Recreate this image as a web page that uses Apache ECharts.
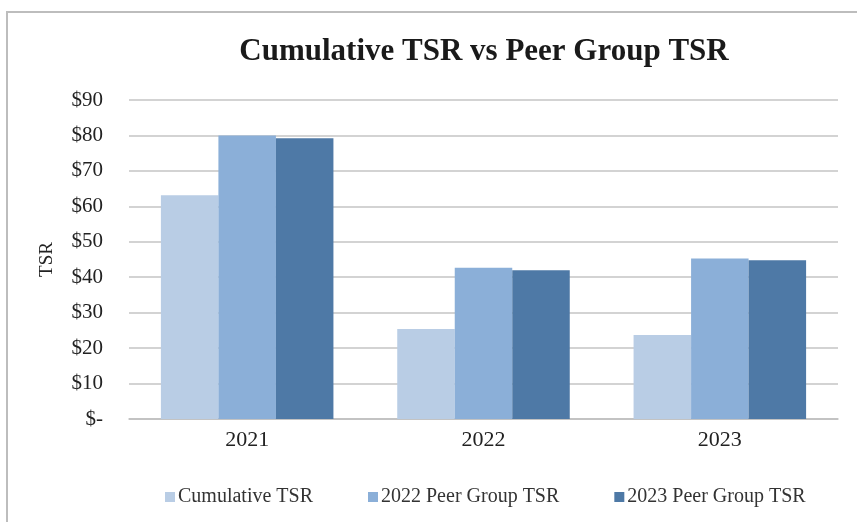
<!DOCTYPE html>
<html>
<head>
<meta charset="utf-8">
<script src="https://cdn.jsdelivr.net/npm/echarts@6/dist/echarts.min.js"></script>
<style>
  html, body { margin: 0; padding: 0; background: #fff; }
  #chart { width: 857px; height: 522px; }
</style>
</head>
<body>
<div id="chart"></div>
<script>
// categories and series
var years = ['2021', '2022', '2023'];
var cumulativeTsr = [63.1, 25.4, 23.7];
var peer2022Tsr = [80.0, 42.7, 45.3];
var peer2023Tsr = [79.2, 42.0, 44.8];
var seriesNames = ['Cumulative TSR', '2022 Peer Group TSR', '2023 Peer Group TSR'];

var chart = echarts.init(document.getElementById('chart'));
var serif = '"Liberation Serif", "DejaVu Serif", serif';

var option = {
  backgroundColor: '#ffffff',
  color: ['#B9CDE5', '#8BAFD8', '#4E79A6'],
  animation: false,
  title: {
    text: 'Cumulative TSR vs Peer Group TSR',
    left: 479,
    textAlign: 'center',
    top: 31,
    textStyle: { fontFamily: serif, fontSize: 31, fontWeight: 'bold', color: '#1a1a1a' }
  },
  legend: {
    data: seriesNames,
    left: 160,
    top: 482,
    itemWidth: 10,
    itemHeight: 10,
    itemGap: 55,
    icon: 'rect',
    textStyle: { fontFamily: serif, fontSize: 20, color: '#333', padding: [0, 0, 0, -2] }
  },
  grid: { left: 129, right: 19, top: 100, bottom: 103 },
  xAxis: {
    type: 'category',
    data: years,
    axisTick: { show: false },
    axisLine: { lineStyle: { color: '#BFBFBF', width: 1.5 } },
    axisLabel: { fontFamily: serif, fontSize: 22, color: '#222', margin: 10 }
  },
  yAxis: {
    type: 'value',
    min: 0,
    max: 90,
    interval: 10,
    name: 'TSR',
    nameLocation: 'middle',
    nameGap: 72,
    nameRotate: 90,
    nameTextStyle: { fontFamily: serif, fontSize: 19, color: '#222' },
    axisLine: { show: false },
    axisTick: { show: false },
    splitLine: { lineStyle: { color: '#C4C4C4', width: 1.5 } },
    axisLabel: {
      fontFamily: serif, fontSize: 21, color: '#222', margin: 26,
      formatter: function (v) { return v === 0 ? '$-' : '$' + v; }
    }
  },
  series: [
    { name: seriesNames[0], type: 'bar', data: cumulativeTsr, barGap: '0%', barCategoryGap: '27%' },
    { name: seriesNames[1], type: 'bar', data: peer2022Tsr, barGap: '0%', barCategoryGap: '27%' },
    { name: seriesNames[2], type: 'bar', data: peer2023Tsr, barGap: '0%', barCategoryGap: '27%' }
  ],
  graphic: [{
    type: 'rect',
    shape: { x: 7, y: 12, width: 870, height: 530 },
    style: { fill: 'none', stroke: '#BDBDBD', lineWidth: 2 },
    silent: true
  }]
};

chart.setOption(option);
</script>
</body>
</html>
